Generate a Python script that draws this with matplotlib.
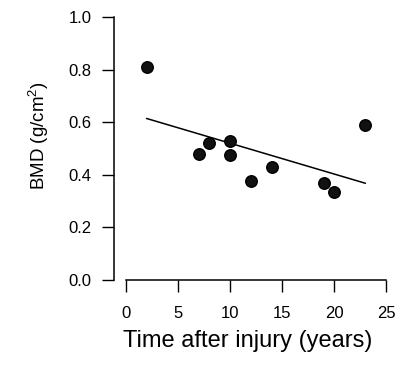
import numpy as np
from matplotlib import pyplot as plt

plt.rcParams['font.family'] = ['Liberation Sans', 'DejaVu Sans']
plt.rcParams['mathtext.default'] = 'regular'

# datos
tiempo = [2, 7, 8, 10, 10, 12, 14, 19, 20, 23]  # anos despues de la lesion
bmd = [0.81, 0.48, 0.52, 0.53, 0.475, 0.375, 0.43, 0.37, 0.333, 0.59]  # g/cm2
linea_x = [2, 23]  # recta de regresion
linea_y = [0.614, 0.368]
xticks = [0, 5, 10, 15, 20, 25]
yticks = [0.0, 0.2, 0.4, 0.6, 0.8, 1.0]

fig = plt.figure(figsize=(3.95, 3.67), dpi=100)
ax = fig.add_axes([114/395, 87/367, 272/395, 263/367])

ax.plot(linea_x, linea_y, color='black', lw=1.1)
ax.plot(tiempo, bmd, 'o', color='#111111', markersize=8.3, markeredgecolor='black')

ax.set_xlim(-1.15, 25)
ax.set_ylim(0, 1.0)
ax.set_xticks(xticks)
ax.set_yticks(yticks)
ax.set_yticklabels([f'{v:.1f}' for v in yticks])
ax.spines['top'].set_visible(False)
ax.spines['right'].set_visible(False)
ax.spines['bottom'].set_bounds(0, 25)
for s in ['left', 'bottom']:
    ax.spines[s].set_linewidth(1.1)
ax.tick_params(axis='both', direction='out', length=8.5, width=1.0, labelsize=12)
ax.tick_params(axis='y', pad=7.5)
ax.tick_params(axis='x', pad=10.5)

ax.set_xlabel('Time after injury (years)', fontsize=17)
ax.set_ylabel('BMD (g/cm$^{2}$)', fontsize=13.5)
ax.xaxis.set_label_coords(0.49, -0.19)
ax.yaxis.set_label_coords(-0.23, 0.55)

fig.savefig('out.png', dpi=100)
